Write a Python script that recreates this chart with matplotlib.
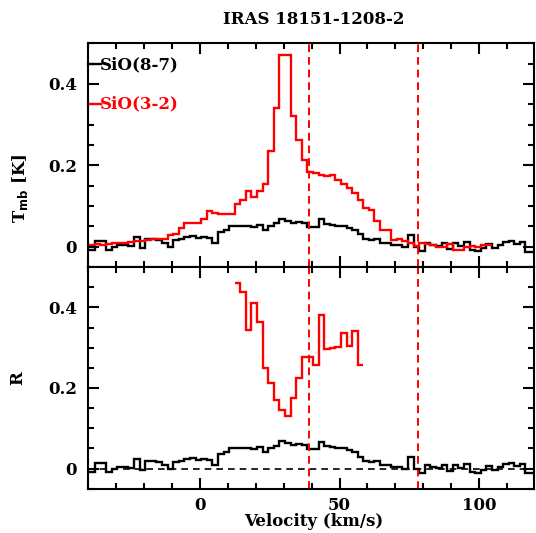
import numpy as np
import matplotlib.pyplot as plt
from matplotlib.ticker import MultipleLocator, FuncFormatter

plt.rcParams['font.family'] = 'DejaVu Serif'
plt.rcParams['font.weight'] = 'bold'

title = 'IRAS 18151-1208-2'

# SiO(8-7) spectrum, 2 km/s channels, centres from -40.5 to 119.5 km/s
vel_87 = np.arange(-40.5, 120.0, 2.0)
sio_87 = [-0.008, -0.008, 0.014, 0.014, -0.009, -0.002, 0.003, 0.003, 0.002, 0.024,
          -0.003, 0.020, 0.018, 0.016, 0.010, 0.000, 0.016, 0.020, 0.024, 0.026,
          0.022, 0.024, 0.022, 0.010, 0.037, 0.040, 0.050, 0.050, 0.050, 0.052,
          0.049, 0.053, 0.041, 0.052, 0.057, 0.068, 0.063, 0.058, 0.060, 0.059,
          0.049, 0.049, 0.067, 0.055, 0.053, 0.051, 0.051, 0.045, 0.041, 0.030,
          0.020, 0.016, 0.020, 0.010, 0.008, 0.004, 0.004, 0.000, 0.029, 0.000,
          -0.011, 0.010, 0.004, 0.002, 0.010, -0.006, 0.010, 0.002, 0.012, -0.008,
          -0.011, -0.004, 0.006, -0.004, 0.004, 0.012, 0.015, 0.006, 0.011, -0.012,
          -0.012]

# SiO(3-2) spectrum, centres from -40.5 to 103.5 km/s
vel_32 = np.arange(-40.5, 104.0, 2.0)
sio_32 = [-0.002, 0.004, 0.006, 0.004, 0.006, 0.008, 0.008, 0.010, 0.012, 0.014,
          0.014, 0.016, 0.018, 0.018, 0.020, 0.028, 0.030, 0.047, 0.058, 0.058,
          0.058, 0.067, 0.088, 0.083, 0.080, 0.080, 0.081, 0.104, 0.114, 0.136,
          0.122, 0.137, 0.155, 0.235, 0.340, 0.470, 0.470, 0.320, 0.262, 0.213,
          0.184, 0.180, 0.176, 0.174, 0.176, 0.163, 0.155, 0.145, 0.131, 0.114,
          0.094, 0.090, 0.063, 0.042, 0.042, 0.016, 0.018, 0.014, 0.008, 0.002,
          0.008, 0.006, 0.004, 0.000, 0.000, 0.006, -0.008, -0.008, 0.000, 0.002,
          0.000, 0.004, 0.004]

# ratio R = SiO(8-7)/SiO(3-2), centres from 13.5 to 57.5 km/s
vel_r = np.arange(13.5, 58.0, 2.0)
ratio = [0.460, 0.438, 0.344, 0.411, 0.363, 0.250, 0.213, 0.170, 0.146, 0.131,
         0.174, 0.225, 0.278, 0.278, 0.258, 0.381, 0.296, 0.298, 0.302, 0.336,
         0.303, 0.342, 0.256]

v_marks = [39, 78]


def edges(v, width=2.0):
    return np.append(v - width / 2, v[-1] + width / 2)


fig = plt.figure(figsize=(5.36, 5.33), dpi=100)
ax1 = fig.add_axes([0.164, 0.499, 0.832, 0.420])
ax2 = fig.add_axes([0.164, 0.083, 0.832, 0.416])

for ax in (ax1, ax2):
    ax.stairs(sio_87, edges(vel_87), baseline=None, color='black', lw=1.7)
    for v in v_marks:
        ax.axvline(v, color='red', ls=(0, (4, 2.5)), lw=1.4)
    ax.set_xlim(-40, 119.5)
    ax.set_ylim(-0.05, 0.5)
    ax.xaxis.set_major_locator(MultipleLocator(50))
    ax.xaxis.set_minor_locator(MultipleLocator(10))
    ax.yaxis.set_major_locator(MultipleLocator(0.2))
    ax.yaxis.set_minor_locator(MultipleLocator(0.05))
    ax.yaxis.set_major_formatter(FuncFormatter(lambda y, _: '0' if abs(y) < 1e-9 else f'{y:.1f}'))
    ax.tick_params(which='both', direction='in', top=True, right=True, width=1.5,
                   labelsize=12)
    ax.tick_params(which='major', length=8)
    ax.tick_params(which='minor', length=4)
    ax.tick_params(axis='y', pad=8)
    ax.tick_params(axis='x', pad=6)
    for s in ax.spines.values():
        s.set_linewidth(1.5)

ax1.stairs(sio_32, edges(vel_32), baseline=None, color='red', lw=1.7)
ax1.tick_params(axis='x', labelbottom=False)

ax2.stairs(ratio, edges(vel_r), baseline=None, color='red', lw=1.7)
ax2.axhline(0, color='black', ls=(0, (4, 3)), lw=1.2)

# legend
ax1.plot([0.0, 0.03], [0.905, 0.905], transform=ax1.transAxes, color='black', lw=1.7, clip_on=False)
ax1.text(0.027, 0.905, 'SiO(8-7)', transform=ax1.transAxes, color='black',
         fontsize=12, va='center', ha='left')
ax1.plot([0.0, 0.03], [0.727, 0.727], transform=ax1.transAxes, color='red', lw=1.7, clip_on=False)
ax1.text(0.027, 0.727, 'SiO(3-2)', transform=ax1.transAxes, color='red',
         fontsize=12, va='center', ha='left')

fig.text(0.585, 1 - 20 / 533, title, ha='center', va='center', fontsize=12)
fig.text(0.585, 1 - 522 / 533, 'Velocity (km/s)', ha='center', va='center', fontsize=12)
fig.text(20 / 536, 1 - 188 / 533, r'T$_{\mathbf{mb}}$ [K]', ha='center', va='center',
         rotation=90, fontsize=12)
fig.text(18 / 536, 1 - 378 / 533, 'R', ha='center', va='center', rotation=90, fontsize=12)

fig.savefig('out.png', dpi=100)
